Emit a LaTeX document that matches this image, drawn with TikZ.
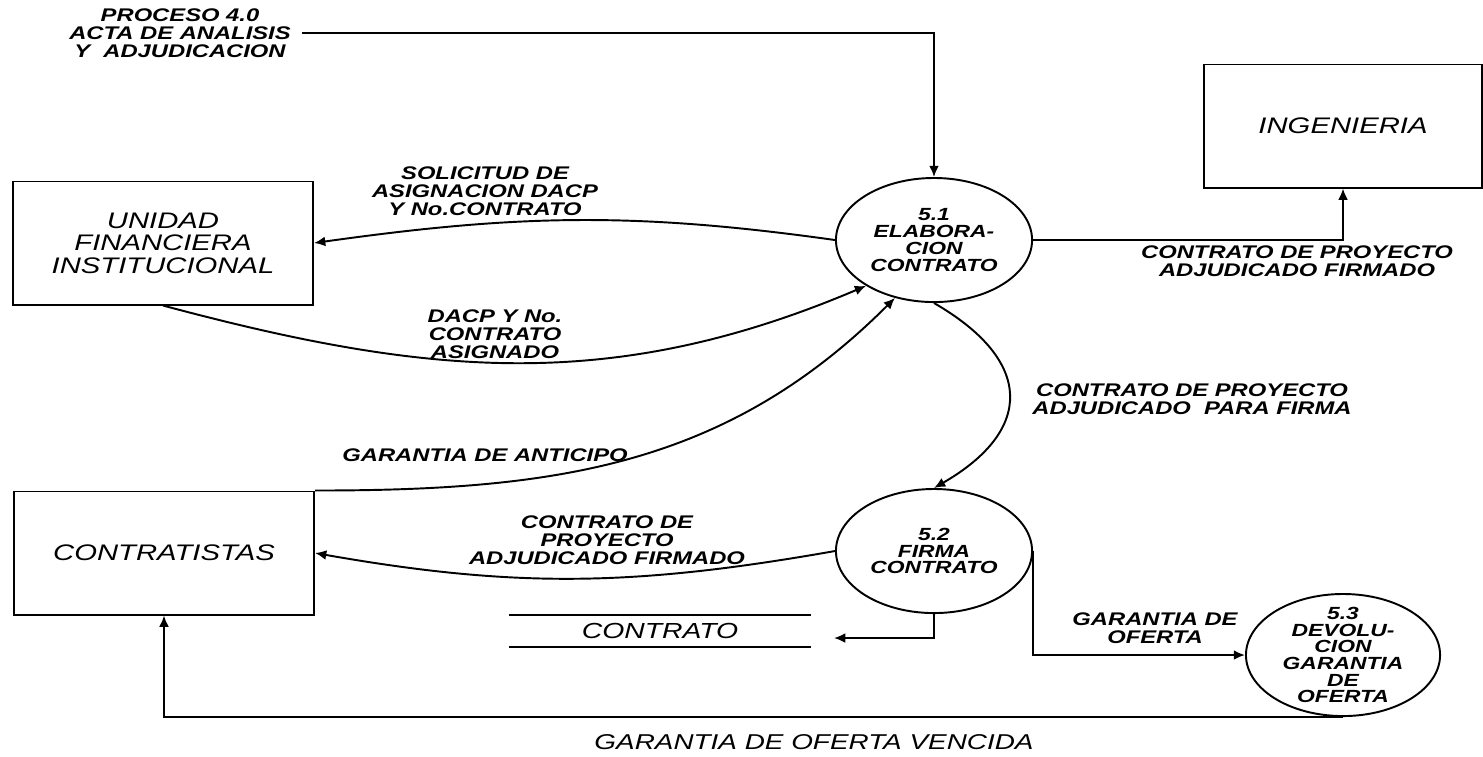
\documentclass[tikz,border=0pt]{standalone}
\usepackage{fontspec}
\usepackage{tikz}
\usetikzlibrary{shapes.geometric, arrows.meta}
\setmainfont{Liberation Sans}[FakeStretch=1.3]

\tikzset{
    entidad/.style={draw, line width=0.55pt, minimum width=3cm, minimum height=1.23cm,
        align=center, font=\fontsize{6.4}{6.4}\selectfont\itshape},
    proceso/.style={draw, ellipse, line width=0.55pt, minimum width=1.96cm, minimum height=1.24cm, inner sep=0pt},
    ptexto/.style={align=center, inner sep=0pt, font=\fontsize{5}{4.75}\selectfont\bfseries\itshape},
    flujo/.style={align=center, inner sep=0pt, font=\fontsize{5.2}{5.1}\selectfont\bfseries\itshape},
    flecha/.style={line width=0.55pt, -{Latex[length=3.2pt,width=2.8pt]}},
}

\begin{document}
\begin{tikzpicture}[x=0.01cm, y=0.01cm]
    \useasboundingbox (0,0) rectangle (1483,-756);

    \node[entidad] (ufi) at (163,-243) {UNIDAD\\FINANCIERA\\INSTITUCIONAL}; % 外部实体
    \node[entidad] (contr) at (164,-553) {CONTRATISTAS};
    \node[entidad, minimum width=2.77cm] (ing) at (1343,-126) {INGENIERIA};

    \node[proceso] (c51) at (934,-240) {}; % 处理
    \node[ptexto] (t51) at (c51) {5.1\\ELABORA-\\CION\\CONTRATO};
    \node[proceso] (c52) at (934,-551) {};
    \node[ptexto] (t52) at (c52) {5.2\\FIRMA\\CONTRATO};
    \node[proceso, minimum width=1.94cm, minimum height=1.22cm] (c53) at (1343,-655) {};
    \node[ptexto] (t53) at (c53) {5.3\\DEVOLU-\\CION\\GARANTIA\\DE\\OFERTA};

    \node[inner sep=0pt, minimum width=3cm, minimum height=0.31cm,
        font=\fontsize{6.2}{6.2}\selectfont\itshape] (alm) at (660,-631) {CONTRATO}; % 数据存储
    \draw[line width=0.55pt] (alm.north west) -- (alm.north east);
    \draw[line width=0.55pt] (alm.south west) -- (alm.south east);
    \coordinate (almfin) at (834,-638);

    \node[flujo] (acta) at (180,-33) {PROCESO 4.0\\ACTA DE ANALISIS\\Y\ \ ADJUDICACION};
    \draw[flecha] ([xshift=3pt]acta.east) -| (c51.north);

    \draw[flecha] (c51.west) to[out=172, in=8] (ufi.east);
    \node[flujo] (lsol) at (485,-191) {SOLICITUD DE\\ASIGNACION DACP\\Y No.CONTRATO};

    \draw[flecha] (ufi.south) to[out=-15, in=203] (c51.214);
    \node[flujo] (ldacp) at (495,-334) {DACP Y No.\\CONTRATO\\ASIGNADO};

    \draw[flecha] (contr.north east) to[out=0, in=225] (c51.236);
    \node[flujo] (lanti) at (485,-455) {GARANTIA DE ANTICIPO};

    \draw[flecha] (c51.east) -| (ing.south);
    \node[flujo] (ling) at (1297,-261) {CONTRATO DE PROYECTO\\ADJUDICADO FIRMADO};

    \draw[flecha] (c51.south) to[out=-30, in=30, looseness=1.6] (c52.north);
    \node[flujo] (lpara) at (1192,-399) {CONTRATO DE PROYECTO\\ADJUDICADO\ \ PARA FIRMA};

    \draw[flecha] (c52.west) to[out=190, in=-10] (contr.east);
    \node[flujo] (lfirm) at (607,-540) {CONTRATO DE\\PROYECTO\\ADJUDICADO FIRMADO};

    \draw[flecha] (c52.south) |- (almfin);

    \draw[flecha] (c52.east) |- (c53.west);
    \node[flujo] (loft) at (1155,-628) {GARANTIA DE\\OFERTA};

    \draw[flecha] (c53.south) -| (contr.south);
    \node[font=\fontsize{6.1}{6}\selectfont\itshape, inner sep=0pt] (lvenc) at (814,-742) {GARANTIA DE OFERTA VENCIDA};
\end{tikzpicture}
\end{document}
